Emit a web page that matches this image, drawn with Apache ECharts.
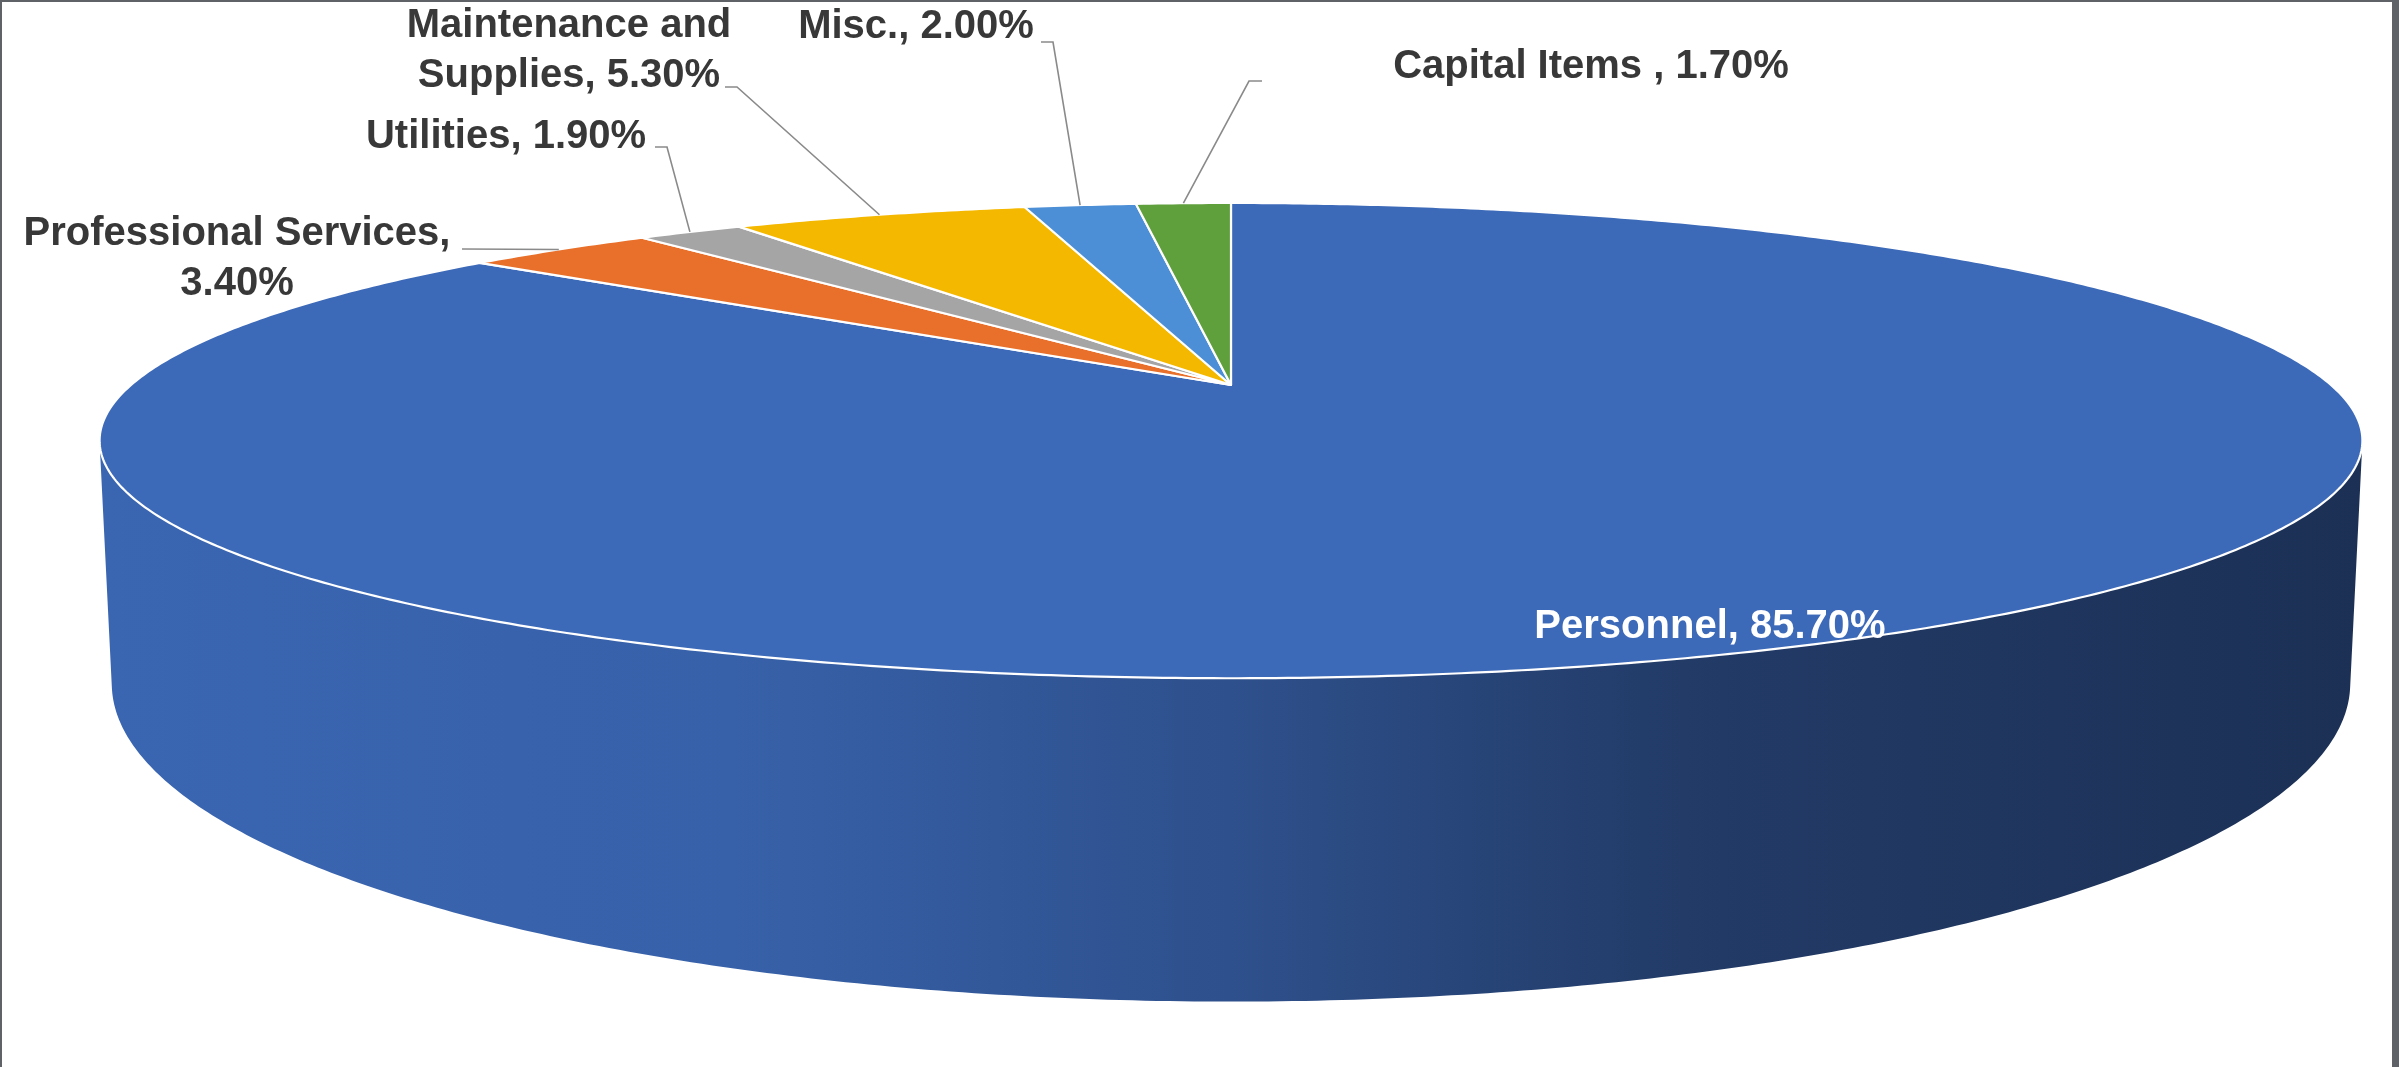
<!DOCTYPE html>
<html>
<head>
<meta charset="utf-8">
<title>Expenditure by Category</title>
<script src="https://cdn.jsdelivr.net/npm/echarts@6/dist/echarts.min.js"></script>
<style>
  html, body { margin: 0; padding: 0; background: #ffffff; }
  #chart { width: 2399px; height: 1067px; }
</style>
</head>
<body>
<div id="chart"></div>
<script>
// Budget shares, in percent, listed clockwise from 12 o'clock
const categories = ['Personnel', 'Professional Services', 'Utilities', 'Maintenance and Supplies', 'Misc.', 'Capital Items '];
const shares = [85.7, 3.4, 1.9, 5.3, 2.0, 1.7];
const sliceColors = ['#3c69b8', '#e8702a', '#a5a5a5', '#f5b800', '#4d8fd6', '#5f9f3c'];

// Label placement: anchor of the text block, where the name wraps, leader elbow
const labelLayout = [
  { x: 1710, y: 627, color: '#ffffff' },
  { x: 237, y: 259, wrapAt: 22, elbow: [[462, 249]] },
  { x: 506, y: 137, elbow: [[667, 147], [655, 147]] },
  { x: 569, y: 51, wrapAt: 15, elbow: [[737, 87], [725, 87]] },
  { x: 916, y: 27, elbow: [[1053, 42], [1041, 42]] },
  { x: 1591, y: 67, elbow: [[1249, 81], [1262, 81]] }
];

// Perspective view of a flat cylinder (the base plane opens a little more)
const view = { cx: 1231, cy: 385, R: 1100, H: 232, sinE: 0.2042, cosE: 0.9789, f: 4602, baseOpen: 1.12 };
const kSil = view.R / (view.f * view.cosE);
const asinK = Math.asin(kSil);

function proj(r, theta, z) {
  const x = r * Math.cos(theta), y = r * Math.sin(theta);
  const open = z < 0 ? view.baseOpen : 1;
  const up = y * view.sinE * open + z * view.cosE;
  const d = y * view.cosE - z * view.sinE;
  const s = view.f / (view.f + d);
  return [view.cx + x * s, view.cy - up * s];
}

function shade(hex, k) {
  const n = parseInt(hex.slice(1), 16);
  const r = Math.round(((n >> 16) & 255) * k);
  const g = Math.round(((n >> 8) & 255) * k);
  const b = Math.round((n & 255) * k);
  return 'rgb(' + r + ',' + g + ',' + b + ')';
}

const total = shares.reduce((a, b) => a + b, 0);
const starts = [];
shares.reduce((acc, v, i) => { starts[i] = acc; return acc + v; }, 0);

function arcPoints(from, to, r, z) {
  const pts = [];
  const n = Math.max(2, Math.ceil(Math.abs(to - from) / (Math.PI / 360)));
  for (let j = 0; j <= n; j++) {
    pts.push(proj(r, from + (to - from) * j / n, z));
  }
  return pts;
}

const FONT = 'bold 40px "Liberation Sans", Arial, sans-serif';

function renderItem(params, api) {
  const i = params.dataIndex;
  const v = api.value(0);
  const color = sliceColors[i];
  const a0 = Math.PI / 2 - 2 * Math.PI * starts[i] / total;
  const a1 = a0 - 2 * Math.PI * v / total;
  const children = [];

  // Outer wall, only where it faces the viewer
  const lo = Math.max(a1, -Math.PI + asinK);
  const hi = Math.min(a0, -asinK);
  if (hi > lo) {
    const topEdge = arcPoints(lo, hi, view.R, 0);
    const botEdge = arcPoints(hi, lo, view.R, -view.H);
    const grad = new echarts.graphic.LinearGradient(view.cx - 1135, 0, view.cx + 1135, 0, [
      { offset: 0, color: shade(color, 0.96) },
      { offset: 0.28, color: shade(color, 0.92) },
      { offset: 0.5, color: shade(color, 0.76) },
      { offset: 0.7, color: shade(color, 0.56) },
      { offset: 1, color: shade(color, 0.46) }
    ], true);
    children.push({
      type: 'polygon', z2: 1,
      shape: { points: topEdge.concat(botEdge) },
      style: { fill: grad }
    });
  }

  // Top face
  const top = [proj(0, 0, 0)].concat(arcPoints(a0, a1, view.R, 0));
  children.push({
    type: 'polygon', z2: 5,
    shape: { points: top },
    style: { fill: color, stroke: '#ffffff', lineWidth: 2.2, lineJoin: 'round' }
  });

  // Data label
  const lay = labelLayout[i];
  let text = categories[i] + ', ' + v.toFixed(2) + '%';
  if (lay.wrapAt) text = text.slice(0, lay.wrapAt) + '\n' + text.slice(lay.wrapAt + 1);
  if (lay.elbow) {
    const mid = (a0 + a1) / 2;
    const edge = proj(view.R, mid, 0);
    children.push({
      type: 'polyline', z2: 8,
      shape: { points: [edge].concat(lay.elbow) },
      style: { stroke: '#8a8a8a', lineWidth: 1.6, fill: null }
    });
  }
  children.push({
    type: 'text', z2: 10,
    style: {
      text: text, x: lay.x, y: lay.y,
      font: FONT, fill: lay.color || '#383838',
      align: 'center', verticalAlign: 'middle',
      textAlign: 'center', textVerticalAlign: 'middle',
      lineHeight: 50
    }
  });

  return { type: 'group', children: children };
}

const chart = echarts.init(document.getElementById('chart'), null, { renderer: 'canvas' });
chart.setOption({
  backgroundColor: '#ffffff',
  animation: false,
  series: [{
    type: 'custom',
    coordinateSystem: 'none',
    renderItem: renderItem,
    data: shares.map((v, i) => ({ name: categories[i], value: [v] }))
  }],
  graphic: [
    { type: 'rect', left: 0, top: 0, shape: { width: 2399, height: 2 }, style: { fill: '#5f6368' }, z: 100 },
    { type: 'rect', left: 0, top: 0, shape: { width: 2, height: 1067 }, style: { fill: '#5f6368' }, z: 100 },
    { type: 'rect', right: 0, top: 0, shape: { width: 7, height: 1067 }, style: { fill: '#5f6368' }, z: 100 }
  ]
});
</script>
</body>
</html>
